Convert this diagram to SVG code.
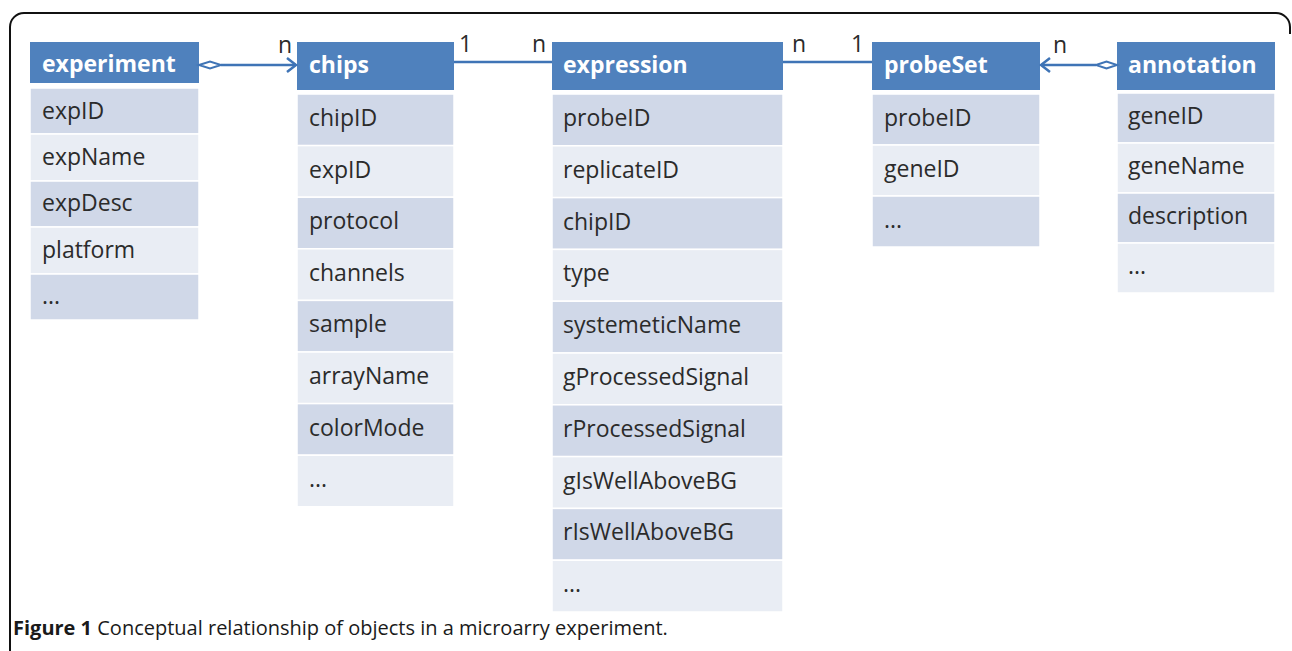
<svg xmlns="http://www.w3.org/2000/svg" width="1292" height="651" viewBox="0 0 1292 651">
<style>
.hd{fill:#4f81bd}
.dk{fill:#d0d8e8;stroke:#ffffff;stroke-width:1.5}
.lt{fill:#e9edf4;stroke:#ffffff;stroke-width:1.5}
.ht{font-family:"Open Sans","Noto Sans",sans-serif;font-weight:bold;font-size:23px;fill:#ffffff}
.rt{font-family:"Open Sans","Noto Sans",sans-serif;font-size:23px;fill:#2b2b2b}
.lb{font-family:"Open Sans","Noto Sans",sans-serif;font-size:23px;fill:#2b2b2b}
.cn{stroke:#3f74b6;stroke-width:2.5;fill:none}
.cap{font-family:"Open Sans","Noto Sans",sans-serif;font-size:20px;fill:#1a1a1a}
</style>
<defs>
<marker id="arr" markerWidth="14" markerHeight="16" refX="11" refY="8" orient="auto" markerUnits="userSpaceOnUse">
<path d="M2,1 L11,8 L2,15" fill="none" stroke="#3f74b6" stroke-width="2.5"/>
</marker>
</defs>
<rect width="1292" height="651" fill="#ffffff"/>
<path d="M10,651 V27 A14,14 0 0 1 24,13 H1276 A14,14 0 0 1 1290,27 V34" fill="none" stroke="#111111" stroke-width="2"/>

<g id="experiment">
<rect class="hd" x="30" y="42" width="169" height="41"/>
<text class="ht" x="42" y="72">experiment</text>
<rect class="dk" x="30" y="88" width="169" height="46"/>
<rect class="lt" x="30" y="134" width="169" height="47"/>
<rect class="dk" x="30" y="181" width="169" height="46"/>
<rect class="lt" x="30" y="227" width="169" height="47"/>
<rect class="dk" x="30" y="274" width="169" height="46"/>
<text class="rt" x="42" y="119">expID</text>
<text class="rt" x="42" y="165">expName</text>
<text class="rt" x="42" y="211">expDesc</text>
<text class="rt" x="42" y="258">platform</text>
<text class="rt" x="42" y="304">...</text>
</g>

<g id="chips">
<rect class="hd" x="297" y="42" width="157" height="48"/>
<text class="ht" x="309" y="73">chips</text>
<rect class="dk" x="297" y="94" width="157" height="51.6"/>
<rect class="lt" x="297" y="145.6" width="157" height="51.6"/>
<rect class="dk" x="297" y="197.2" width="157" height="51.6"/>
<rect class="lt" x="297" y="248.8" width="157" height="51.6"/>
<rect class="dk" x="297" y="300.4" width="157" height="51.6"/>
<rect class="lt" x="297" y="352" width="157" height="51.6"/>
<rect class="dk" x="297" y="403.6" width="157" height="51.6"/>
<rect class="lt" x="297" y="455.2" width="157" height="51.6"/>
<text class="rt" x="309" y="126">chipID</text>
<text class="rt" x="309" y="178">expID</text>
<text class="rt" x="309" y="229">protocol</text>
<text class="rt" x="309" y="281">channels</text>
<text class="rt" x="309" y="332">sample</text>
<text class="rt" x="309" y="384">arrayName</text>
<text class="rt" x="309" y="436">colorMode</text>
<text class="rt" x="309" y="487">...</text>
</g>

<g id="expression">
<rect class="hd" x="552" y="42" width="231" height="48"/>
<text class="ht" x="563" y="73">expression</text>
<rect class="dk" x="552" y="94" width="231" height="51.8"/>
<rect class="lt" x="552" y="145.8" width="231" height="51.8"/>
<rect class="dk" x="552" y="197.6" width="231" height="51.8"/>
<rect class="lt" x="552" y="249.4" width="231" height="51.8"/>
<rect class="dk" x="552" y="301.2" width="231" height="51.8"/>
<rect class="lt" x="552" y="353" width="231" height="51.8"/>
<rect class="dk" x="552" y="404.8" width="231" height="51.8"/>
<rect class="lt" x="552" y="456.6" width="231" height="51.8"/>
<rect class="dk" x="552" y="508.4" width="231" height="51.8"/>
<rect class="lt" x="552" y="560.2" width="231" height="51.8"/>
<text class="rt" x="563" y="126">probeID</text>
<text class="rt" x="563" y="178">replicateID</text>
<text class="rt" x="563" y="230">chipID</text>
<text class="rt" x="563" y="281">type</text>
<text class="rt" x="563" y="333">systemeticName</text>
<text class="rt" x="563" y="385">gProcessedSignal</text>
<text class="rt" x="563" y="437">rProcessedSignal</text>
<text class="rt" x="563" y="489">gIsWellAboveBG</text>
<text class="rt" x="563" y="540">rIsWellAboveBG</text>
<text class="rt" x="563" y="592">...</text>
</g>

<g id="probeSet">
<rect class="hd" x="872" y="42" width="168" height="48"/>
<text class="ht" x="884" y="73">probeSet</text>
<rect class="dk" x="872" y="94" width="168" height="51"/>
<rect class="lt" x="872" y="145" width="168" height="51"/>
<rect class="dk" x="872" y="196" width="168" height="51"/>
<text class="rt" x="884" y="126">probeID</text>
<text class="rt" x="884" y="177">geneID</text>
<text class="rt" x="884" y="228">...</text>
</g>

<g id="annotation">
<rect class="hd" x="1117" y="42" width="158" height="48"/>
<text class="ht" x="1128" y="73">annotation</text>
<rect class="dk" x="1117" y="93" width="158" height="50"/>
<rect class="lt" x="1117" y="143" width="158" height="50"/>
<rect class="dk" x="1117" y="193" width="158" height="50"/>
<rect class="lt" x="1117" y="243" width="158" height="50"/>
<text class="rt" x="1128" y="124">geneID</text>
<text class="rt" x="1128" y="174">geneName</text>
<text class="rt" x="1128" y="224">description</text>
<text class="rt" x="1128" y="274">...</text>
</g>

<g id="connectors">
<line class="cn" x1="221" y1="65" x2="296" y2="65" marker-end="url(#arr)"/>
<polygon points="199,65 210,61.5 221,65 210,68.5" fill="#ffffff" stroke="#3f74b6" stroke-width="2"/>
<line class="cn" x1="454" y1="62" x2="552" y2="62"/>
<line class="cn" x1="783" y1="62" x2="872" y2="62"/>
<line class="cn" x1="1096" y1="65" x2="1041" y2="65" marker-end="url(#arr)"/>
<polygon points="1096,65 1106.5,61.5 1117,65 1106.5,68.5" fill="#ffffff" stroke="#3f74b6" stroke-width="2"/>
<text class="lb" x="278" y="53">n</text>
<text class="lb" x="459" y="52">1</text>
<text class="lb" x="532" y="52">n</text>
<text class="lb" x="792" y="52">n</text>
<text class="lb" x="851" y="52">1</text>
<text class="lb" x="1053" y="53">n</text>
</g>

<text class="cap" x="13" y="635"><tspan font-weight="bold">Figure 1</tspan> Conceptual relationship of objects in a microarry experiment.</text>
</svg>
